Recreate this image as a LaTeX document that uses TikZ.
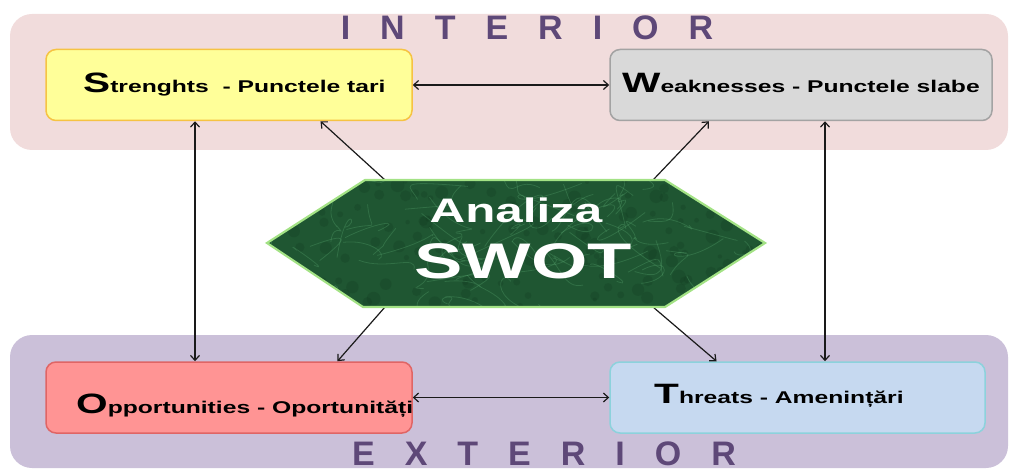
\documentclass[tikz,border=0pt]{standalone}
\usepackage{fontspec}
\setmainfont{Liberation Sans}
\newfontfamily\wide{Liberation Sans}[FakeStretch=1.45]
\usetikzlibrary{arrows.meta,calc}
\definecolor{intfill}{HTML}{F1DCDC}
\definecolor{extfill}{HTML}{CBC0D9}
\definecolor{titlecol}{HTML}{5E4878}
\definecolor{sfill}{HTML}{FFFF99}
\definecolor{sdraw}{HTML}{F6C343}
\definecolor{wfill}{HTML}{D9D9D9}
\definecolor{wdraw}{HTML}{A3A3A3}
\definecolor{ofill}{HTML}{FF9494}
\definecolor{odraw}{HTML}{E06565}
\definecolor{tfill}{HTML}{C6D9F0}
\definecolor{tdraw}{HTML}{8CD2DC}
\definecolor{hexfill}{HTML}{1F5632}
\definecolor{hexlight}{HTML}{5BAA72}
\definecolor{hexdark}{HTML}{123A20}
\definecolor{hexdraw}{HTML}{A3E285}
\definecolor{arrowcol}{HTML}{1A1A1A}
\newcommand{\bigini}[1]{{\fontsize{28}{28}\selectfont #1}}
\newcommand{\tracked}[1]{{\spaceskip=30pt\relax #1}}
\begin{document}
\begin{tikzpicture}[x=1pt,y=-1pt,
  band/.style={rounded corners=22pt},
  titletext/.style={inner sep=0pt,anchor=base,text=titlecol,
    font=\bfseries\fontsize{34}{34}\selectfont},
  swotbox/.style={rectangle,rounded corners=10pt,line width=1.5pt,
    minimum height=71pt,inner sep=0pt},
  boxtext/.style={inner sep=0pt,anchor=base west,text=black,
    font=\wide\bfseries\fontsize{17}{20}\selectfont},
  conn/.style={draw=arrowcol,line width=1.2pt,
    arrows={Straight Barb[length=5pt,width=9pt]-Straight Barb[length=5pt,width=9pt]}},
  conn1/.style={draw=arrowcol,line width=1.2pt,
    -{Straight Barb[length=5pt,width=9pt]}},
]
\useasboundingbox (0,0) rectangle (1014,470);
% bands
\fill[intfill,band] (10,14) rectangle (1008,150);
\fill[extfill,band] (10,335) rectangle (1008,468);
% titles
\node[titletext] (tint) at (527,40) {\tracked{I N T E R I O R}};
\node[titletext] (text) at (544,465) {\tracked{E X T E R I O R}};
% boxes
\node[swotbox,fill=sfill,draw=sdraw,minimum width=366pt] (S) at (229,85) {};
\node[swotbox,fill=wfill,draw=wdraw,minimum width=382pt] (W) at (801,85) {};
\node[swotbox,fill=ofill,draw=odraw,minimum width=366pt] (O) at (229,397.5) {};
\node[swotbox,fill=tfill,draw=tdraw,minimum width=375pt] (T) at (797.5,397.5) {};
\node[boxtext] (Stxt) at (83,93) {\bigini{S}trenghts~ - Punctele tari};
\node[boxtext] (Wtxt) at (622,93) {\bigini{W}eaknesses - Punctele slabe};
\node[boxtext] (Otxt) at (76,413) {\bigini{O}pportunities - Oportunități};
\node[boxtext] (Ttxt) at (654,403) {\bigini{T}hreats - Amenințări};
% connector anchors
\coordinate (vl) at (195,0);
\coordinate (vr) at (825,0);
\coordinate (hS) at (385,180);
\coordinate (hW) at (653,180);
\coordinate (hO) at (385,307);
\coordinate (hT) at (653,307);
% connectors
\draw[conn] (S.east) -- (W.west);
\draw[conn] (O.east) -- (O.east -| T.west);
\draw[conn] (S.south -| vl) -- (O.north -| vl);
\draw[conn] (W.south -| vr) -- (T.north -| vr);
\draw[conn1] (hS) -- ($(S.south west)!0.749!(S.south east)$);
\draw[conn1] (hW) -- ($(W.south west)!0.26!(W.south east)$);
\draw[conn1] (hO) -- ($(O.north west)!0.795!(O.north east)$);
\draw[conn1] (hT) -- ($(T.north west)!0.285!(T.north east)$);
% hexagon (marbled fill)
\begin{scope}
\clip (267,243) -- (365,180) -- (665,180) -- (765,243) -- (665,307) -- (363,307) -- cycle;
\fill[hexfill] (260,175) rectangle (770,312);
\pgfmathsetseed{11}
\foreach \i in {1,...,160}{
  \pgfmathsetmacro\cxa{516+250*rand}
  \pgfmathsetmacro\cya{243+66*rand}
  \pgfmathsetmacro\cra{2+5*rnd}
  \fill[hexdark,opacity=0.25] (\cxa,\cya) circle (\cra pt);
}
\foreach \i in {1,...,90}{
  \pgfmathsetmacro\ax{516+250*rand}
  \pgfmathsetmacro\ay{243+66*rand}
  \pgfmathsetmacro\bx{\ax+40*rand}
  \pgfmathsetmacro\by{\ay+30*rand}
  \pgfmathsetmacro\ccx{\ax+40*rand}
  \pgfmathsetmacro\ccy{\ay+30*rand}
  \pgfmathsetmacro\dx{\ax+60*rand}
  \pgfmathsetmacro\dy{\ay+40*rand}
  \draw[hexlight,opacity=0.3,line width=0.8pt] (\ax,\ay) .. controls (\bx,\by) and (\ccx,\ccy) .. (\dx,\dy);
}
\end{scope}
\draw[hexdraw,line width=2.2pt,line join=miter] (267,243) -- (365,180) -- (665,180) -- (765,243) -- (665,307) -- (363,307) -- cycle;
\node[inner sep=0pt,anchor=base,text=white,font=\wide\bfseries\fontsize{34}{34}\selectfont] (ana) at (516,223) {Analiza};
\node[inner sep=0pt,anchor=base,text=white,font=\wide\bfseries\fontsize{50}{50}\selectfont] (swot) at (523,278) {SWOT};
\end{tikzpicture}
\end{document}
